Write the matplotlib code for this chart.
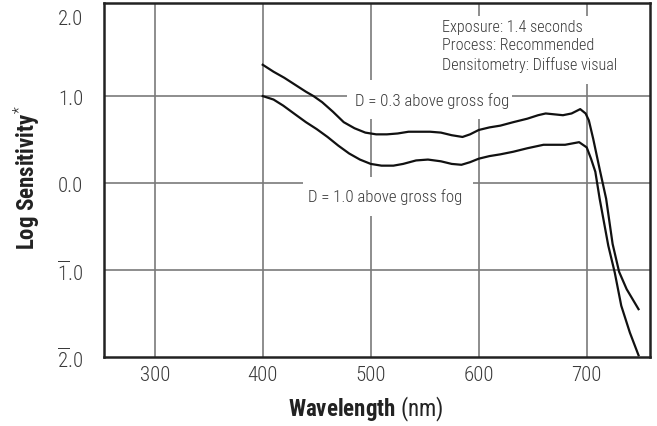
import matplotlib
matplotlib.use('Agg')
import matplotlib.pyplot as plt
from matplotlib.patches import Rectangle

plt.rcParams['font.family'] = ['Roboto Condensed', 'DejaVu Sans']
plt.rcParams['font.weight'] = 'light'
plt.rcParams['mathtext.fontset'] = 'custom'
plt.rcParams['mathtext.rm'] = 'Roboto Condensed:light'
plt.rcParams['mathtext.bf'] = 'Roboto Condensed:bold'
plt.rcParams['mathtext.default'] = 'regular'

# D = 0.3 above gross fog
wl_d03 = [400, 410, 420, 430, 440, 447, 455, 465, 475, 485, 495, 505, 515, 525,
          535, 545, 555, 565, 575, 585, 592, 600, 610, 620, 632, 645, 655, 662,
          670, 678, 686, 694, 699, 702, 706, 712, 718, 724, 730, 737, 748]
ls_d03 = [1.36, 1.28, 1.21, 1.13, 1.05, 1.00, 0.93, 0.82, 0.70, 0.63, 0.58, 0.56,
          0.56, 0.57, 0.59, 0.59, 0.59, 0.58, 0.55, 0.53, 0.56, 0.61, 0.64, 0.66,
          0.70, 0.74, 0.78, 0.80, 0.79, 0.78, 0.80, 0.85, 0.80, 0.72, 0.51, 0.16,
          -0.18, -0.70, -1.02, -1.22, -1.45]

# D = 1.0 above gross fog
wl_d10 = [400, 410, 419, 430, 440, 450, 460, 470, 480, 490, 500, 510, 521, 530,
          542, 553, 565, 575, 584, 592, 600, 610, 620, 632, 645, 660, 670, 680,
          693, 700, 704, 708, 712, 720, 726, 732, 740, 748]
ls_d10 = [1.00, 0.96, 0.89, 0.79, 0.70, 0.62, 0.53, 0.43, 0.34, 0.27, 0.22, 0.20,
          0.20, 0.22, 0.26, 0.27, 0.25, 0.22, 0.21, 0.24, 0.28, 0.31, 0.33, 0.36,
          0.40, 0.44, 0.44, 0.44, 0.47, 0.41, 0.28, 0.13, -0.18, -0.72, -1.03,
          -1.41, -1.72, -1.98]

x_ticks = [300, 400, 500, 600, 700]
y_ticks = [-2, -1, 0, 1, 2]
y_grid = [-1, 0, 1]
y_labels = [r'$\overline{2}$.0', r'$\overline{1}$.0', '0.0', '1.0', '2.0']

fig = plt.figure(figsize=(6.57, 4.27), dpi=100)
ax = fig.add_axes([0.1583, 0.1616, 0.831, 0.829])

ax.plot(wl_d03, ls_d03, color='#111111', lw=1.6, zorder=4)
ax.plot(wl_d10, ls_d10, color='#111111', lw=1.6, zorder=4)

ax.set_xlim(253, 758.6)
ax.set_ylim(-2, 2.07)
ax.set_xticks(x_ticks)
ax.set_yticks(y_ticks)
ax.set_yticklabels(y_labels)
ax.xaxis.grid(True, color='#7a7a7a', lw=1.2)
for yv in y_grid:
    ax.axhline(yv, color='#7a7a7a', lw=1.2, zorder=1)
ax.set_axisbelow(True)
ax.tick_params(length=0, labelsize=15, labelcolor='#3a3a3a')
ax.tick_params(axis='y', pad=15)
ax.tick_params(axis='x', pad=6)
ax.get_yticklabels()[-1].set_va('top')

for sp in ax.spines.values():
    sp.set_color('#222222')
    sp.set_linewidth(1.8)

# white masks behind the notes, cutting the grid
for (x0, x1, y0, y1) in [(478, 631, 0.737, 1.185),
                         (437, 595, -0.378, 0.07),
                         (562, 740, 1.139, 1.92)]:
    ax.add_patch(Rectangle((x0, y0), x1 - x0, y1 - y0, facecolor='white',
                           edgecolor='none', zorder=2.5))

ax.text(556.7, 0.955, 'D = 0.3 above gross fog', fontsize=12.2, color='#3a3a3a',
        ha='center', va='center', zorder=3)
ax.text(513, -0.15, 'D = 1.0 above gross fog', fontsize=12.2, color='#3a3a3a',
        ha='center', va='center', zorder=3)
ax.text(566, 1.89, 'Exposure: 1.4 seconds\nProcess: Recommended\nDensitometry: Diffuse visual',
        fontsize=11.6, color='#3a3a3a', ha='left', va='top', linespacing=1.3,
        zorder=3)

ax.set_xlabel(r'$\mathbf{Wavelength}$ (nm)', fontsize=16.5, color='#222222', va='baseline')
ax.xaxis.set_label_coords(0.479, -0.166)
ax.set_ylabel(r'Log Sensitivity$^{\mathrm{*}}$', fontsize=16.5, fontweight='bold',
              color='#222222', va='center')
ax.yaxis.set_label_coords(-0.141, 0.51)

fig.savefig('out.png', dpi=100)
